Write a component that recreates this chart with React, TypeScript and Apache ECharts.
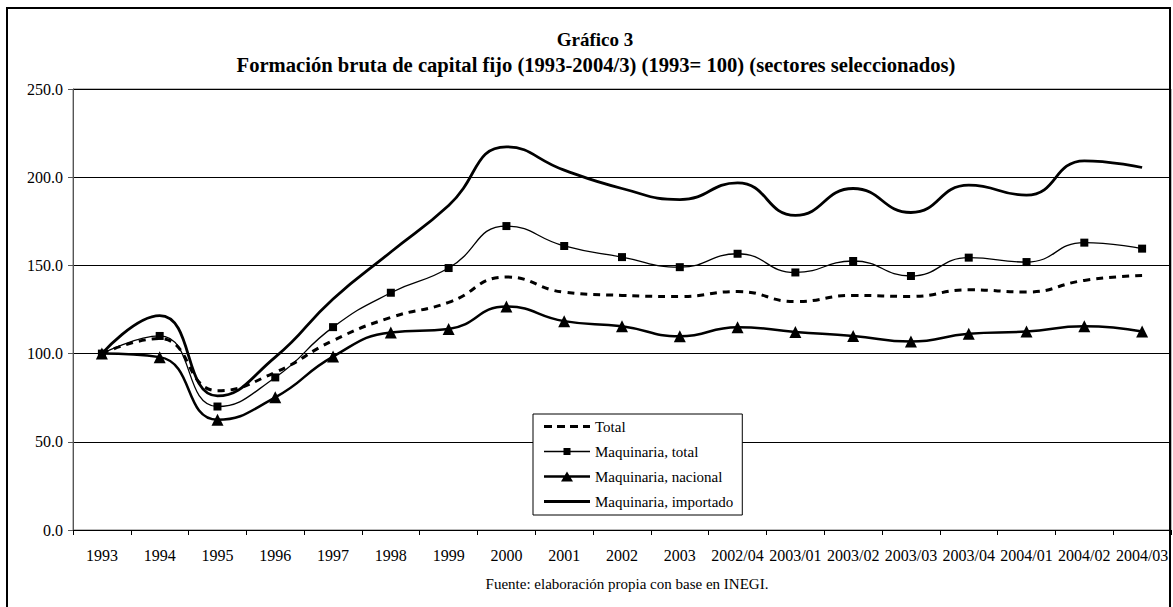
import React, { useEffect, useRef } from "react";
import * as echarts from "echarts";

const categories = [
  "1993", "1994", "1995", "1996", "1997", "1998", "1999", "2000", "2001", "2002", "2003",
  "2002/04", "2003/01", "2003/02", "2003/03", "2003/04", "2004/01", "2004/02", "2004/03",
];
const totalValues = [100, 108.5, 79, 89.4, 107.4, 120.5, 129, 143.4, 134.8, 133, 132.4, 135.2, 129.5, 133, 132.4, 136.2, 134.9, 141.5, 144.3];
const maqTotalValues = [100, 110, 70, 86.5, 115, 134.5, 148.5, 172.3, 161, 154.7, 149, 156.6, 146, 152.5, 144, 154.4, 151.9, 162.9, 159.5];
const maqNacionalValues = [100, 98, 62.5, 75.2, 98.3, 112, 114, 126.7, 118.4, 115.5, 109.8, 115, 112.3, 110, 106.8, 111.2, 112.5, 115.5, 112.5];
const maqImportadoValues = [100, 121.5, 76, 98, 131, 157.6, 184, 217.2, 204, 193.6, 187.3, 196.8, 178.4, 193.6, 180, 195.5, 189.8, 209.3, 205.5];
const seriesNames = ["Total", "Maquinaria, total", "Maquinaria, nacional", "Maquinaria, importado"];
const yTicks = { min: 0, max: 250, interval: 50 };

const FONT = "Liberation Serif";

const legendIcons = [
  "path://M0,0M46,12M0,4.5h8v3h-8zM13,4.5h8v3h-8zM26,4.5h8v3h-8zM39,4.5h7v3h-7z",
  "path://M0,0M46,12M0,5.3h46v1.4h-46zM19.5,2.5h7v7h-7z",
  "path://M0,0M46,12M0,4.8h46v2.4h-46zM17,11L23,1L29,11z",
  "path://M0,0M46,12M0,4.6h46v2.8h-46z",
];

export default function App() {
  const ref = useRef<HTMLDivElement>(null);
  useEffect(() => {
    document.body.style.margin = "0";
    if (!ref.current) return;
    const chart = echarts.init(ref.current, undefined, { renderer: "svg" });
    chart.setOption({
      animation: false,
      backgroundColor: "#fff",
      textStyle: { fontFamily: FONT },
      title: [
        {
          text: "Gráfico 3",
          left: 590,
          top: 25,
          textAlign: "center",
          textStyle: { fontFamily: FONT, fontSize: 19, fontWeight: "bold", color: "#000" },
        },
        {
          text: "Formación bruta de capital fijo (1993-2004/3) (1993= 100) (sectores seleccionados)",
          left: 591,
          top: 49,
          textAlign: "center",
          textStyle: { fontFamily: FONT, fontSize: 20.6, fontWeight: "bold", color: "#000" },
        },
        {
          text: "Fuente: elaboración propia con base en INEGI.",
          left: 622,
          top: 571,
          textAlign: "center",
          textStyle: { fontFamily: FONT, fontSize: 15, fontWeight: "normal", color: "#000" },
        },
      ],
      graphic: [
        {
          type: "rect",
          shape: { x: 7, y: 8, width: 1163, height: 610 },
          style: { fill: "none", stroke: "#000", lineWidth: 2 },
          silent: true,
          z: 100,
        },
      ],
      legend: {
        orient: "vertical",
        left: 533,
        top: 414,
        backgroundColor: "#fff",
        borderColor: "#000",
        borderWidth: 1,
        padding: [5, 9, 6, 11],
        itemWidth: 46,
        itemHeight: 12,
        itemGap: 10,
        textStyle: { fontFamily: FONT, fontSize: 15, color: "#000" },
        data: seriesNames.map((name, i) => ({ name, icon: legendIcons[i] })),
        z: 10,
      },
      grid: {
        left: 73,
        right: 2,
        top: 89,
        bottom: 77,
        show: true,
        borderColor: "#777",
        borderWidth: 1,
        backgroundColor: "transparent",
      },
      xAxis: {
        type: "category",
        data: categories,
        boundaryGap: true,
        axisLine: { lineStyle: { color: "#000", width: 1 } },
        axisTick: { show: true, length: 5, lineStyle: { color: "#000" } },
        axisLabel: { interval: 0, margin: 17, fontFamily: FONT, fontSize: 16, color: "#000" },
        splitLine: { show: false },
      },
      yAxis: {
        type: "value",
        min: yTicks.min,
        max: yTicks.max,
        interval: yTicks.interval,
        axisLine: { show: true, lineStyle: { color: "#555", width: 1 } },
        axisTick: { show: true, length: 5, lineStyle: { color: "#555" } },
        axisLabel: {
          margin: 10,
          fontFamily: FONT,
          fontSize: 16,
          color: "#000",
          formatter: (v: number) => v.toFixed(1),
        },
        splitLine: { show: true, lineStyle: { color: "#000", width: 1 } },
      },
      series: [
        {
          name: seriesNames[0],
          type: "line",
          data: totalValues,
          smooth: 0.5,
          symbol: "none",
          lineStyle: { color: "#000", width: 3, type: [7, 6] },
          itemStyle: { color: "#000" },
        },
        {
          name: seriesNames[1],
          type: "line",
          data: maqTotalValues,
          smooth: 0.5,
          symbol: "rect",
          symbolSize: 8,
          lineStyle: { color: "#000", width: 1.3 },
          itemStyle: { color: "#000" },
        },
        {
          name: seriesNames[2],
          type: "line",
          data: maqNacionalValues,
          smooth: 0.5,
          symbol: "triangle",
          symbolSize: 12,
          lineStyle: { color: "#000", width: 2.5 },
          itemStyle: { color: "#000" },
        },
        {
          name: seriesNames[3],
          type: "line",
          data: maqImportadoValues,
          smooth: 0.5,
          symbol: "none",
          lineStyle: { color: "#000", width: 2.8 },
          itemStyle: { color: "#000" },
        },
      ],
    });
    return () => chart.dispose();
  }, []);
  return <div ref={ref} style={{ width: 1173, height: 607 }} />;
}
